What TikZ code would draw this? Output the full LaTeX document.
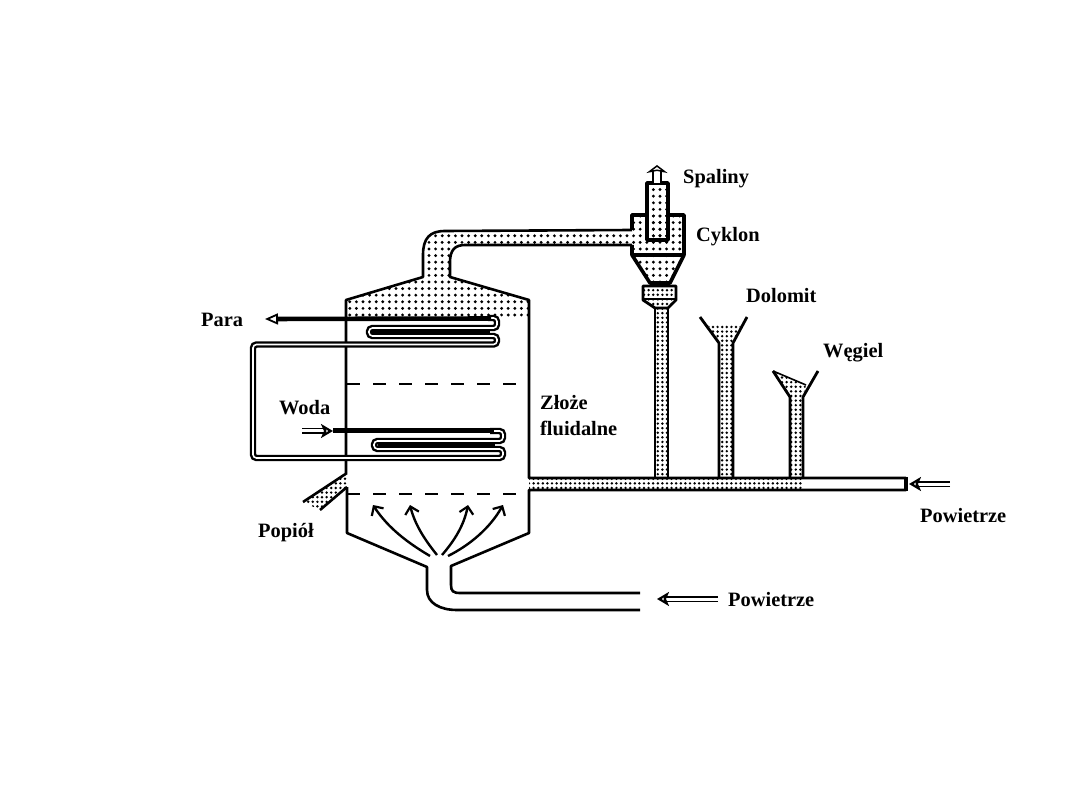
\documentclass[tikz,border=0pt]{standalone}
\usepackage{fontspec}
\setmainfont{Liberation Serif}
\usetikzlibrary{arrows.meta, patterns.meta}

\begin{document}
\begin{tikzpicture}[x=1pt, y=-1pt, >=Stealth,
  wall/.style={draw, line width=2.6pt, line join=round},
  pipe/.style={draw, line width=2.8pt, line join=round},
  gas/.style={pattern={Dots[radius=1.6pt, distance=6.6pt]}},
  solids/.style={pattern={Dots[radius=1.35pt, distance=4.6pt]}},
  coil/.style={draw, line width=2.4pt, double=white, double distance=1.6pt, rounded corners=3.5pt},
  grid/.style={line width=2pt, dash pattern=on 13pt off 13pt},
  inlet/.style={line width=1.6pt, double=white, double distance=3pt,
    -{Stealth[open, fill=white, length=12pt, width=14pt, inset=3pt, line width=2.2pt]}},
  jet/.style={line width=2.4pt, -{Straight Barb[length=7pt, width=14pt, line width=2.2pt]}},
  lab/.style={font=\bfseries\fontsize{20.4}{22}\selectfont, inner sep=0pt, anchor=west, align=left}]
\useasboundingbox (0,0) rectangle (1080,810);

% dotted gas and solids
\fill[gas] (346,319) -- (346,300) -- (423,277) -- (423,255) .. controls (423,238) and (430,231) .. (445,231)
  -- (632,230) -- (632,215) -- (684,215) -- (684,255) -- (670,283) -- (650,283) -- (632,255) -- (632,245)
  -- (465,245) .. controls (455,245) and (450,250) .. (450,262) -- (450,277) -- (529,300) -- (529,319) -- cycle;
\fill[gas] (647,183) rectangle (668,240);
\fill[solids] (643,286) -- (676,286) -- (676,300) -- (668,308) -- (668,478) -- (719,478) -- (719,343)
  -- (708,325) -- (741,325) -- (733,343) -- (733,478) -- (790,478) -- (790,397) -- (773,371) -- (806,385)
  -- (803,397) -- (803,478) -- (803,490) -- (529,490) -- (529,478) -- (655,478) -- (655,308) -- (643,300) -- cycle;
\fill[solids] (347,473) -- (347,487) -- (320,510) -- (303,502) -- cycle;

% reactor
\draw[wall] (346,473) -- (346,300) -- (423,277) -- (423,255) .. controls (423,238) and (430,231) .. (445,231) -- (632,230);
\draw[wall] (632,245) -- (465,245) .. controls (455,245) and (450,250) .. (450,262) -- (450,277) -- (529,300)
  -- (529,478) -- (906,478);
\draw[wall] (906,478) -- (906,490) -- (529,490) -- (529,533) -- (451,566) -- (451,585)
  .. controls (451,591) and (453,593) .. (460,593) -- (640,593);
\draw[wall] (347,487) -- (347,533) -- (427,567) -- (427,590) .. controls (427,603) and (440,610) .. (457,610) -- (640,610);
\draw[grid] (347,384) -- (529,384);
\draw[grid] (347,494) -- (529,494);

% ash outlet
\draw[wall] (347,473) -- (303,502);
\draw[wall] (347,487) -- (320,510);

% cyclone
\draw[pipe, line width=3.6pt] (632,230) -- (632,215) -- (647,215);
\draw[pipe, line width=3.6pt] (668,215) -- (684,215) -- (684,255) -- (670,283) -- (650,283) -- (632,255) -- (632,245);
\draw[pipe, line width=3.6pt] (632,255) -- (684,255);
\draw[pipe, line width=3.6pt] (647,240) -- (647,183) -- (668,183) -- (668,240) -- cycle;
\draw[pipe] (643,286) -- (676,286) -- (676,300) -- (668,308) -- (655,308) -- (643,300) -- cycle;
\draw[wall] (643,299) -- (676,299);

% feed pipes
\draw[pipe] (655,308) -- (655,478);
\draw[pipe] (668,308) -- (668,478);
\draw[pipe] (700,317) -- (719,343) -- (719,478);
\draw[pipe] (747,317) -- (733,343) -- (733,478);
\draw[pipe] (773,371) -- (790,397) -- (790,478);
\draw[pipe] (818,371) -- (803,397) -- (803,478);
\draw[wall, line width=1.6pt] (773,371) -- (806,385);
\draw[pipe, line width=4pt] (906,477) -- (906,491);

% water and steam coils
\coordinate (paratip) at (265,319);
\coordinate (wodaend) at (333,431);
\draw[coil] (488,318) -- (497,318) -- (497,328) -- (369,328) -- (369,336) -- (497,336) -- (497,344.5) -- (253,344.5)
  -- (253,458) -- (503,458) -- (503,449) -- (374,449) -- (374,441) -- (503,441) -- (503,431) -- (490,431);
\draw[line width=4.6pt, -{Triangle[open, fill=white, length=13pt, width=11pt, line width=1.8pt]}] (491,318.5) -- (paratip);
\draw[line width=5pt] (494,431) -- (wodaend);
\draw[line width=3pt] (372,332) -- (490,332);
\draw[line width=3pt] (378,445) -- (495,445);

% labels
\node[lab] (spaliny) at (683,179) {Spaliny};
\node[lab] (cyklon) at (696,237) {Cyklon};
\node[lab] (dolomit) at (746,296) {Dolomit};
\node[lab] (wegiel) at (823,353) {Węgiel};
\node[lab] (para) at (201,320) {Para};
\node[lab] (woda) at (279,408) {Woda};
\node[lab, font=\bfseries\fontsize{20.4}{26}\selectfont] (zloze) at (540,416) {Złoże\\fluidalne};
\node[lab] (popiol) at (258,533) {Popiół};
\node[lab] (powietrzeA) at (920,516) {Powietrze};
\node[lab] (powietrzeB) at (728,600) {Powietrze};

% flow arrows
\coordinate (spalinyA) at (657,183);
\coordinate (spalinyB) at (657,165);
\coordinate (wodaA) at (302,431);
\coordinate (airA) at (950,484);
\coordinate (airB) at (909,484);
\coordinate (airC) at (718,599);
\coordinate (airD) at (657,599);
\draw[line width=1.8pt, double=white, double distance=6pt,
  -{Stealth[open, fill=white, length=8pt, width=21pt, inset=2pt, line width=2.2pt]}] (spalinyA) -- (spalinyB);
\draw[inlet] (wodaA) -- (wodaend);
\draw[inlet] (airA) -- (airB);
\draw[inlet] (airC) -- (airD);
\draw[jet] (430,556) .. controls (408,543) and (388,528) .. (373,505);
\draw[jet] (437,555) .. controls (425,540) and (415,525) .. (410,505);
\draw[jet] (442,555) .. controls (455,540) and (464,525) .. (468,505);
\draw[jet] (448,556) .. controls (470,545) and (490,528) .. (503,505);
\end{tikzpicture}
\end{document}
